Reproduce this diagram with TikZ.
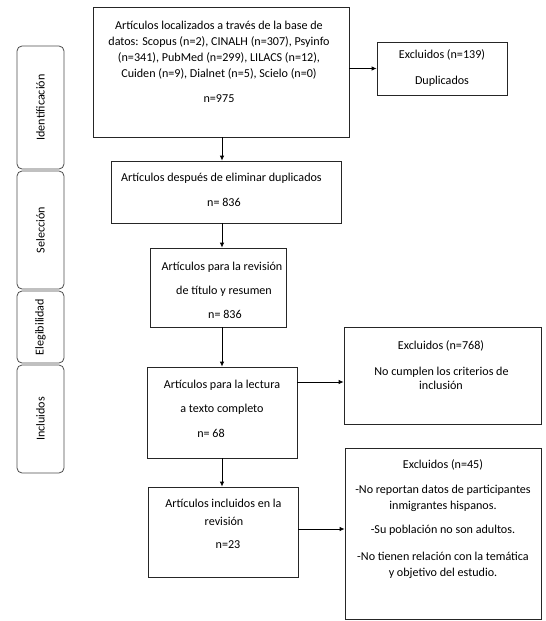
\documentclass[tikz,border=0pt]{standalone}
\usepackage{fontspec}
\setmainfont{Carlito}
\usetikzlibrary{arrows.meta}
\begin{document}
\begin{tikzpicture}[x=1pt,y=-1pt,
  box/.style={draw=black!85,line width=0.8pt,rectangle,inner sep=0pt},
  side/.style={draw=black!70,line width=0.8pt,rectangle,rounded corners=5pt,inner sep=0pt},
  txt/.style={inner sep=0pt,font=\fontsize{12.1}{14}\selectfont,text=black},
  arr/.style={line width=0.8pt,-{Latex[length=5pt,width=4.5pt]}}]
\useasboundingbox (0,0) rectangle (546,621);
% side phases
\node[side,minimum width=47,minimum height=123] (s1) at (40.5,107.5) {};
\node[side,minimum width=47,minimum height=118] (s2) at (40.5,230) {};
\node[side,minimum width=47,minimum height=72] (s3) at (40.5,327) {};
\node[side,minimum width=47,minimum height=108] (s4) at (40.5,419) {};
\node[txt,rotate=90] (t1) at (s1) {Identificación};
\node[txt,rotate=90] (t2) at (s2) {Selección};
\node[txt,rotate=90] (t3) at (s3) {Elegibilidad};
\node[txt,rotate=90] (t4) at (s4) {Incluidos};
% boxes
\node[box,minimum width=256,minimum height=130] (b1) at (221,72) {};
\node[box,minimum width=130,minimum height=53] (e1) at (442,68.5) {};
\node[box,minimum width=230,minimum height=62] (b2) at (226,192) {};
\node[box,minimum width=136,minimum height=79] (b3) at (218,287.5) {};
\node[box,minimum width=150,minimum height=91] (b4) at (222,412.5) {};
\node[box,minimum width=197,minimum height=97] (e2) at (442.5,375.5) {};
\node[box,minimum width=150,minimum height=90] (b5) at (223,532) {};
\node[box,minimum width=196,minimum height=171] (e3) at (443,533.5) {};
% texts
\node[txt] (x11) at (219,25) {Artículos localizados a través de la base de};
\node[txt] (x12) at (219,42) {datos: Scopus (n=2), CINALH (n=307), Psyinfo};
\node[txt] (x13) at (219,58) {(n=341), PubMed (n=299), LILACS (n=12),};
\node[txt] (x14) at (219,74) {Cuiden (n=9), Dialnet (n=5), Scielo (n=0)};
\node[txt] (x15) at (219,99) {n=975};
\node[txt] (y11) at (442,55) {Excluidos (n=139)};
\node[txt] (y12) at (442,81) {Duplicados};
\node[txt] (x21) at (221.5,178) {Artículos después de eliminar duplicados};
\node[txt] (x22) at (224,202) {n= 836};
\node[txt] (x31) at (222,267) {Artículos para la revisión};
\node[txt] (x32) at (224,291) {de título y resumen};
\node[txt] (x33) at (225,314) {n= 836};
\node[txt] (x41) at (222,385) {Artículos para la lectura};
\node[txt] (x42) at (222,409) {a texto completo};
\node[txt] (x43) at (211,433) {n= 68};
\node[txt] (y21) at (441,346) {Excluidos (n=768)};
\node[txt] (y22) at (441.5,372) {No cumplen los criterios de};
\node[txt] (y23) at (441,385) {inclusión};
\node[txt] (x51) at (223.5,503) {Artículos incluidos en la};
\node[txt] (x52) at (224,521) {revisión};
\node[txt] (x53) at (228,545) {n=23};
\node[txt] (y31) at (443,465) {Excluidos (n=45)};
\node[txt] (y32) at (443,490) {-No reportan datos de participantes};
\node[txt] (y33) at (443,506) {inmigrantes hispanos.};
\node[txt] (y34) at (443,530) {-Su población no son adultos.};
\node[txt] (y35) at (443,556) {-No tienen relación con la temática};
\node[txt] (y36) at (443,573) {y objetivo del estudio.};
% connectors
\draw[arr] (b1.south -| b4.north) -- (b2.north -| b4.north);
\draw[arr] (b2.south -| b4.north) -- (b3.north -| b4.north);
\draw[arr] (b3.south -| b4.north) -- (b4.north);
\draw[arr] (b4.south) -- (b5.north -| b4.south);
\draw[arr] (b1.east |- e1.west) -- (e1.west);
\coordinate (a4) at (297,382);
\draw[arr] (a4) -- (a4 -| e2.west);
\coordinate (a5) at (298,529);
\draw[arr] (a5) -- (a5 -| e3.west);
\end{tikzpicture}
\end{document}
